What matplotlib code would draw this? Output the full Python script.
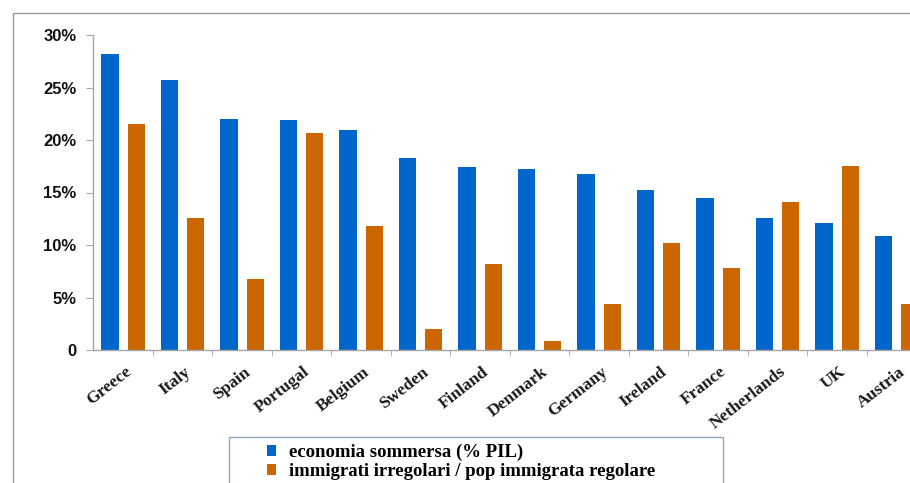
"""
Economia sommersa vs immigrati irregolari, per paese UE.
Grouped bar chart in the old spreadsheet style.
"""
import matplotlib
matplotlib.use("Agg")
import matplotlib.pyplot as plt
import numpy as np
from matplotlib.patches import Rectangle
from matplotlib.ticker import FixedLocator

BLUE = "#0066CC"
ORANGE = "#CC6600"
AXIS_GRAY = "#A6A6A6"
FRAME = "#8EA8C0"

countries = ["Greece", "Italy", "Spain", "Portugal", "Belgium", "Sweden", "Finland",
             "Denmark", "Germany", "Ireland", "France", "Netherlands", "UK", "Austria"]
sommersa = [28.2, 25.7, 22.0, 21.9, 21.0, 18.3, 17.4, 17.2, 16.8, 15.2, 14.5, 12.6, 12.1, 10.9]
irregolari = [21.5, 12.6, 6.8, 20.7, 11.8, 2.0, 8.2, 0.9, 4.4, 10.2, 7.8, 14.1, 17.5, 4.4]
y_ticks = [0, 5, 10, 15, 20, 25, 30]
y_labels = ["0", "5%", "10%", "15%", "20%", "25%", "30%"]
legend_labels = ["economia sommersa (% PIL)", "immigrati irregolari / pop immigrata regolare"]

W, H = 910, 483
fig = plt.figure(figsize=(W / 100, H / 100), dpi=100, facecolor="white")

# chart frame, runs past the right and bottom edges
fig.patches.append(Rectangle((13 / W, -0.1), 1.2, (H - 13) / H + 0.1,
                             transform=fig.transFigure, fill=False,
                             edgecolor="#9A9A9A", linewidth=1.0))

ax = fig.add_axes([93 / W, (H - 350) / H, (926 - 93) / W, (350 - 35) / H])
x = np.arange(len(countries))
width = 0.29
b1 = ax.bar(x - 0.215, sommersa, width, color=BLUE, label=legend_labels[0])
b2 = ax.bar(x + 0.225, irregolari, width, color=ORANGE, label=legend_labels[1])

ax.set_xlim(-0.5, len(countries) - 0.5)
ax.set_ylim(0, 30)
for side in ("top", "right"):
    ax.spines[side].set_visible(False)
for side in ("left", "bottom"):
    ax.spines[side].set_color(AXIS_GRAY)
    ax.spines[side].set_linewidth(1.0)

ax.set_yticks(y_ticks)
ax.set_yticklabels(y_labels, fontsize=12, fontweight="bold",
                   family="Liberation Sans", color="#111111")
ax.tick_params(axis="y", direction="out", length=5, color=AXIS_GRAY, pad=7)

ax.set_xticks(x + 0.03)
ax.set_xticklabels(countries, rotation=38, ha="right", rotation_mode="anchor",
                   fontsize=12.5, fontweight="bold", family="Liberation Serif",
                   color="#1A1A1A")
ax.tick_params(axis="x", which="major", length=0, pad=10)
ax.xaxis.set_minor_locator(FixedLocator(x[:-1] + 0.5))
ax.tick_params(axis="x", which="minor", direction="out", length=4, color=AXIS_GRAY)

# legend box
fig.patches.append(Rectangle((229 / W, -0.05), (723 - 229) / W, (H - 437) / H + 0.05,
                             transform=fig.transFigure, fill=False,
                             edgecolor=FRAME, linewidth=1.0))
fig.legend(handles=[b1, b2], labels=legend_labels, loc="upper left",
           bbox_to_anchor=(267 / W, (H - 444) / H), frameon=False,
           prop={"family": "Liberation Serif", "weight": "bold", "size": 13.5},
           handlelength=0.5, handleheight=0.5, handletextpad=0.65,
           labelspacing=0.1, borderpad=0, borderaxespad=0)

fig.savefig("out.png", dpi=100, facecolor="white")
